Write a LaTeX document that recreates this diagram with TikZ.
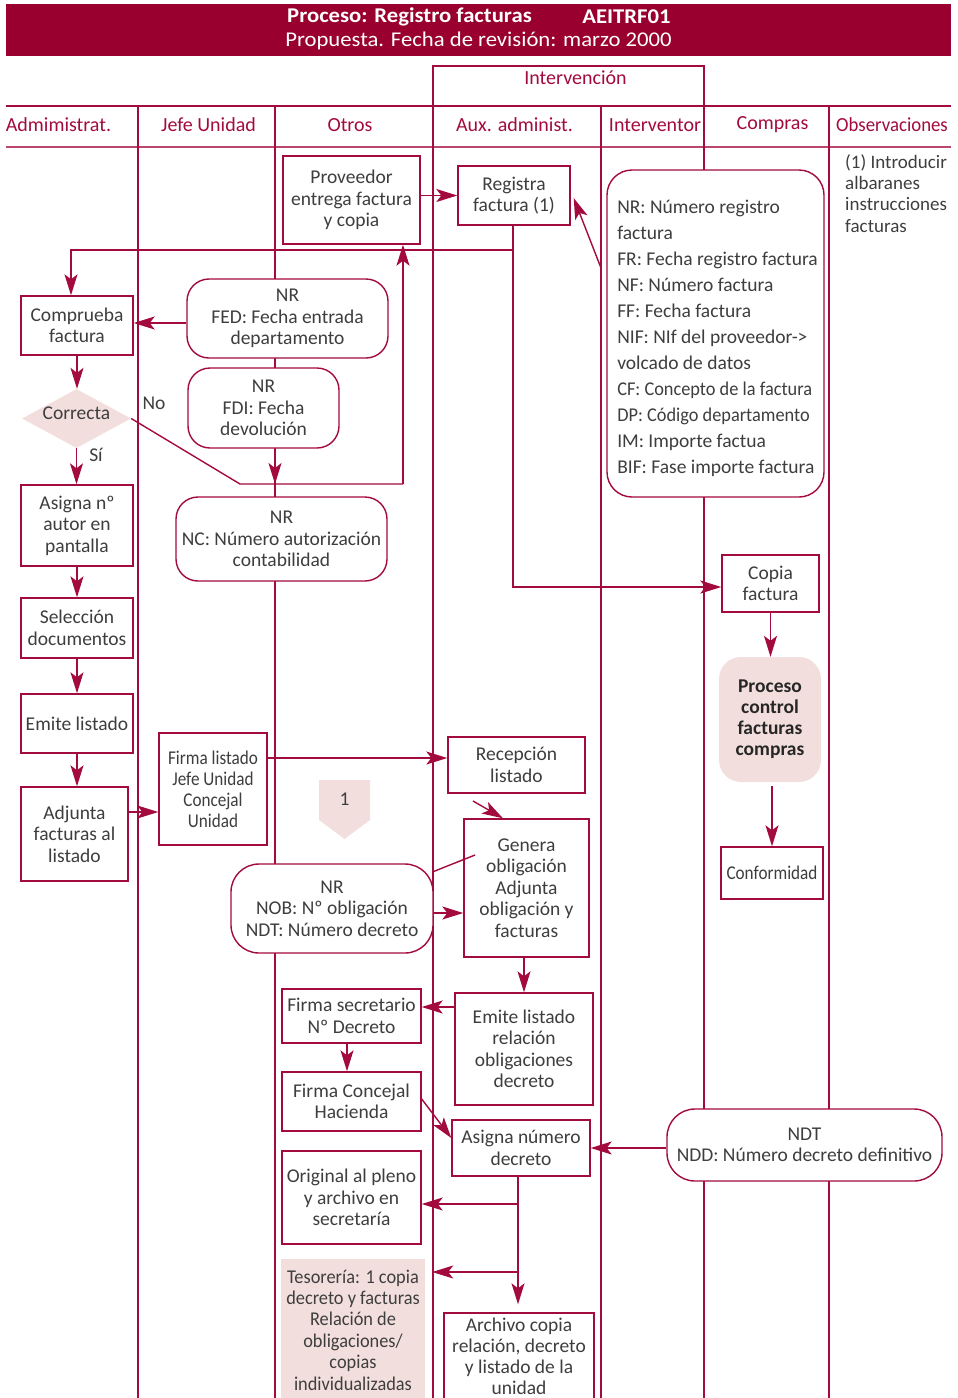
\documentclass[tikz,border=0pt]{standalone}
\usepackage{fontspec}
\setmainfont{Carlito}
\newfontfamily\cond[FakeStretch=0.88]{Carlito}
\newfontfamily\condb[FakeStretch=0.94]{Carlito}
\newfontfamily\widef[FakeStretch=1.08]{Carlito}
\usetikzlibrary{arrows.meta,shapes.geometric}
\definecolor{hdr}{RGB}{153,0,48}
\definecolor{lc}{RGB}{163,10,62}
\definecolor{tx}{RGB}{62,62,62}
\definecolor{pk}{RGB}{242,223,221}
\begin{document}
\begin{tikzpicture}[x=1pt,y=-1pt,
  every node/.style={font=\fontsize{19.5}{21.5}\selectfont, text=tx, inner sep=0pt, align=center},
  box/.style={draw=lc, line width=1.4pt, fill=white},
  rbox/.style={box, rounded corners=22pt},
  arr/.style={draw=lc, line width=1.4pt, -{Stealth[length=21pt,width=13pt,inset=5pt]}},
  ln/.style={draw=lc, line width=1.4pt},
  lane/.style={draw=lc, line width=1.3pt},
  colhead/.style={text=lc, font=\fontsize{20}{22}\selectfont},
  hdtxt/.style={text=white, font=\widef\bfseries\fontsize{21}{22}\selectfont},
  hdtxtb/.style={text=white, font=\widef\fontsize{21}{22}\selectfont},
  cbox/.style={box, font={\cond\fontsize{19.5}{21}\selectfont}},
]
\useasboundingbox (0,0) rectangle (958,1398);
\clip (0,0) rectangle (958,1398);

% header band
\fill[hdr] (6,4) rectangle (951,56);
\node[hdtxt] (t1) at (409.5,17) {Proceso: Registro facturas};
\node[hdtxt] (t2) at (626.5,17) {AEITRF01};
\node[hdtxtb] (t3) at (478.5,41) {Propuesta. Fecha de revisión: marzo 2000};

% lanes
\draw[lane] (433,106) -- (433,66) -- (704,66) -- (704,106);
\node[colhead] (interv) at (575.5,78) {Intervención};
\draw[lane] (6,106) -- (951,106);
\draw[draw=lc!75, line width=2.5pt] (6,147) -- (951,147);
\foreach \x in {138,275,433,601,704,829} {\draw[lane] (\x,106) -- (\x,1398);}
\node[colhead] (h1) at (58.5,125) {Admimistrat.};
\node[colhead] (h2) at (208.5,125) {Jefe Unidad};
\node[colhead] (h3) at (350,125) {Otros};
\node[colhead] (h4) at (514.5,125) {Aux. administ.};
\node[colhead] (h5) at (655,125) {Interventor};
\node[colhead] (h6) at (772.5,125) {Compras};
\node[colhead, font=\condb\fontsize{20}{22}\selectfont] (h7) at (892,125) {Observaciones};

% nodes
\node[box, minimum width=137pt, minimum height=88pt] (prov) at (351.5,200) {Proveedor\\entrega factura\\y copia};
\node[box, minimum width=112pt, minimum height=59pt] (reg) at (514,195.5) {Registra\\factura (1)};
\node[box, minimum width=112pt, minimum height=59pt] (comp) at (77,325.5) {Comprueba\\factura};
\node[rbox, minimum width=201pt, minimum height=79pt] (fed) at (287.5,318.5) {NR\\FED: Fecha entrada\\departamento};
\node[rbox, minimum width=151pt, minimum height=80pt] (fdi) at (263.5,408) {NR\\FDI: Fecha\\devolución};
\node[diamond, fill=pk, minimum width=109pt, minimum height=59pt, label={[yshift=5.5pt]center:Correcta}] (corr) at (76.5,418.5) {};
\node (no) at (154,403) {No};
\node (si) at (96,455) {Sí};
\node[box, minimum width=112pt, minimum height=81pt] (asg) at (77,525.5) {Asigna nº\\autor en\\pantalla};
\node[box, minimum width=112pt, minimum height=60pt] (sel) at (77,628) {Selección\\documentos};
\node[box, minimum width=112pt, minimum height=59pt] (emi) at (77,723.5) {Emite listado};
\node[box, minimum width=107pt, minimum height=94pt] (adj) at (74.5,834) {Adjunta\\facturas al\\listado};
\node[cbox, minimum width=108pt, minimum height=112pt] (fir) at (213,789) {Firma listado\\Jefe Unidad\\Concejal\\Unidad};
\node[rbox, minimum width=211pt, minimum height=84pt] (nc) at (281.5,539) {NR\\NC: Número autorización\\contabilidad};
\fill[pk] (319,780) -- (370,780) -- (370,820) -- (344.5,839) -- (319,820) -- cycle;
\node (one) at (344.5,799) {1};
\node[box, minimum width=137pt, minimum height=56pt] (rec) at (516.5,765) {Recepción\\listado};
\node[box, minimum width=125pt, minimum height=138pt] (gen) at (526.5,888) {Genera\\obligación\\Adjunta\\obligación y\\facturas};
\node[box, minimum width=97pt, minimum height=57pt] (cop) at (770.5,583.5) {Copia\\factura};
\node[fill=pk, rounded corners=22pt, minimum width=102pt, minimum height=125pt, text=black!85, font=\bfseries\fontsize{19.5}{21}\selectfont] (pcf) at (770,719.5) {Proceso\\control\\facturas\\compras};
\node[cbox, minimum width=102pt, minimum height=52pt] (conf) at (772,873) {Conformidad};
\node[box, rounded corners=25pt, minimum width=217pt, minimum height=327pt] (intv) at (715.5,333.5) {};
\node[align=left, font=\fontsize{19.5}{26}\selectfont] (intvt) at (717.5,338.5) {NR: Número registro\\factura\\FR: Fecha registro factura\\NF: Número factura\\FF: Fecha factura\\NIF: NIf del proveedor->\\volcado de datos\\{\condb CF: Concepto de la factura}\\{\condb DP: Código departamento}\\IM: Importe factua\\BIF: Fase importe factura};
\node[anchor=north west, align=left, font=\fontsize{19}{21.3}\selectfont] (obs) at (845,154) {(1) Introducir\\albaranes\\instrucciones\\facturas};
\node[box, rounded corners=28pt, minimum width=202pt, minimum height=89pt] (nob) at (332,908.5) {NR\\NOB: Nº obligación\\NDT: Número decreto};
\node[box, minimum width=138pt, minimum height=112pt] (els) at (524,1049) {Emite listado\\relación\\obligaciones\\decreto};
\node[box, minimum width=139pt, minimum height=54pt] (fsec) at (351.5,1016) {Firma secretario\\Nº Decreto};
\node[box, minimum width=139pt, minimum height=59pt] (fcon) at (351.5,1101.5) {Firma Concejal\\Hacienda};
\node[box, minimum width=138pt, minimum height=56pt] (asn) at (521,1148) {Asigna número\\decreto};
\node[box, rounded corners=28pt, minimum width=275pt, minimum height=72pt] (ndt) at (804.5,1145) {NDT\\NDD: Número decreto definitivo};
\node[box, minimum width=139pt, minimum height=93pt] (ori) at (351.5,1197.5) {Original al pleno\\y archivo en\\secretaría};
\node[fill=pk, minimum width=144pt, minimum height=142pt, font={\condb\fontsize{19.5}{21.4}\selectfont}] (tes) at (353,1330) {Tesorería: 1 copia\\decreto y facturas\\Relación de\\obligaciones/\\copias\\individualizadas};
\node[box, minimum width=150pt, minimum height=86pt, font={\fontsize{19.5}{21}\selectfont}] (arc) at (519,1356) {Archivo copia\\relación, decreto\\y listado de la\\unidad};

% connectors
\coordinate (j1) at (513,250);
\coordinate (j2) at (513,587);
\coordinate (j3) at (71,250);
\draw[arr] (prov.east |- reg.west) -- (reg.west);
\draw[arr] (reg.south -| j1) -- (j2) -- (cop.west |- j2);
\draw[arr] (j1) -- (j3) -- (j3 |- comp.north);
\coordinate (c1) at (601,268);
\draw[arr] (c1) -- ([shift={(3pt,-2.5pt)}]reg.east);
\coordinate (y323) at (0,323);
\draw[arr] (fed.west |- y323) -- (comp.east |- y323);
\draw[arr] (comp.south) -- (comp.south |- corr.north);
\draw[arr] (corr.south) -- (corr.south |- asg.north);
\coordinate (k1) at (240,484);
\coordinate (k2) at (403,484);
\coordinate (k3) at (275,484);
\draw[ln] (corr.east) -- (k1) -- (k2);
\draw[arr] (k2) -- (k2 |- prov.south);
\draw[arr] (fdi.south -| k3) -- (k3);
\draw[arr] (asg.south) -- (sel.north);
\draw[arr] (sel.south) -- (emi.north);
\draw[arr] (emi.south) -- (emi.south |- adj.north);
\coordinate (y812) at (0,812);
\coordinate (y758) at (0,758);
\coordinate (y913) at (0,913);
\coordinate (y1007) at (0,1007);
\draw[arr] (adj.east |- y812) -- (fir.west |- y812);
\draw[arr] (fir.east |- y758) -- (rec.west |- y758);
\coordinate (c2) at (473,801);
\draw[arr] (c2) -- ([xshift=-23.5pt]gen.north);
\coordinate (c3) at (475,855);
\draw[ln] (nob.20) -- (c3);
\draw[arr] (nob.east |- y913) -- (gen.west |- y913);
\draw[arr] (els.north |- gen.south) -- (els.north);
\draw[arr] (els.west |- y1007) -- (fsec.east |- y1007);
\draw[arr] ([xshift=-4.5pt]fsec.south) -- ([xshift=-4.5pt]fcon.north);
\draw[arr] ([yshift=2.5pt]fcon.east) -- ([yshift=10pt]asn.west);
\draw[arr] (asn.east -| ndt.west) -- (asn.east);
\coordinate (d0) at (518,1176);
\coordinate (d1) at (518,1204);
\coordinate (d2) at (518,1272);
\draw[arr, shorten >=8pt] (d0) -- (d0 |- arc.north);
\draw[arr] (d1) -- (ori.east |- d1);
\draw[arr] (d2) -- ([xshift=7pt]tes.east |- d2);
\draw[arr] (cop.south) -- (cop.south |- pcf.north);
\draw[arr, shorten <=4pt] (conf.north |- pcf.south) -- (conf.north);
\end{tikzpicture}
\end{document}
